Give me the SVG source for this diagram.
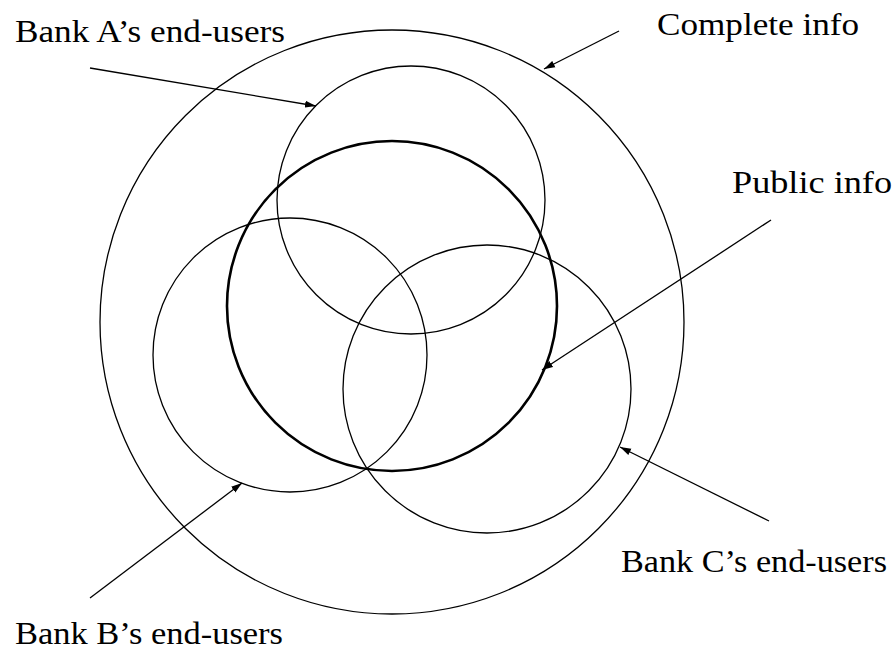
<svg xmlns="http://www.w3.org/2000/svg" width="894" height="651" viewBox="0 0 894 651">
<style>
.c{fill:none;stroke:#000;stroke-width:1.3}
.thick{stroke-width:2.6}
.a{fill:none;stroke:#000;stroke-width:1.3;marker-end:url(#ah)}
.t{font-family:"Liberation Serif","Times New Roman",serif;font-size:31px;fill:#000}
</style>
<defs>
<marker id="ah" markerUnits="userSpaceOnUse" markerWidth="12" markerHeight="8" refX="11" refY="4" orient="auto">
<path d="M0,0.5 L11,4 L0,7.5 z" fill="#000"/>
</marker>
</defs>
<rect width="894" height="651" fill="#fff"/>
<g id="complete-info"><circle class="c" cx="392" cy="322" r="292"/></g>
<g id="bank-a"><circle class="c" cx="411" cy="200" r="134"/></g>
<g id="bank-b"><circle class="c" cx="290" cy="355" r="137"/></g>
<g id="bank-c"><circle class="c" cx="487" cy="389" r="144"/></g>
<g id="public-info"><circle class="c thick" cx="392" cy="306" r="165"/></g>
<g id="connectors">
<line class="a" x1="90" y1="68" x2="316" y2="106"/>
<line class="a" x1="619" y1="31" x2="544" y2="69"/>
<line class="a" x1="771" y1="220" x2="542" y2="370"/>
<line class="a" x1="90" y1="598" x2="242" y2="483"/>
<line class="a" x1="769" y1="521" x2="620" y2="447"/>
</g>
<g id="labels">
<text class="t" x="15" y="42" textLength="270" lengthAdjust="spacingAndGlyphs">Bank A’s end-users</text>
<text class="t" x="657" y="35" textLength="202" lengthAdjust="spacingAndGlyphs">Complete info</text>
<text class="t" x="732" y="193" textLength="160" lengthAdjust="spacingAndGlyphs">Public info</text>
<text class="t" x="15" y="644" textLength="268" lengthAdjust="spacingAndGlyphs">Bank B’s end-users</text>
<text class="t" x="621" y="572" textLength="266" lengthAdjust="spacingAndGlyphs">Bank C’s end-users</text>
</g>
</svg>
